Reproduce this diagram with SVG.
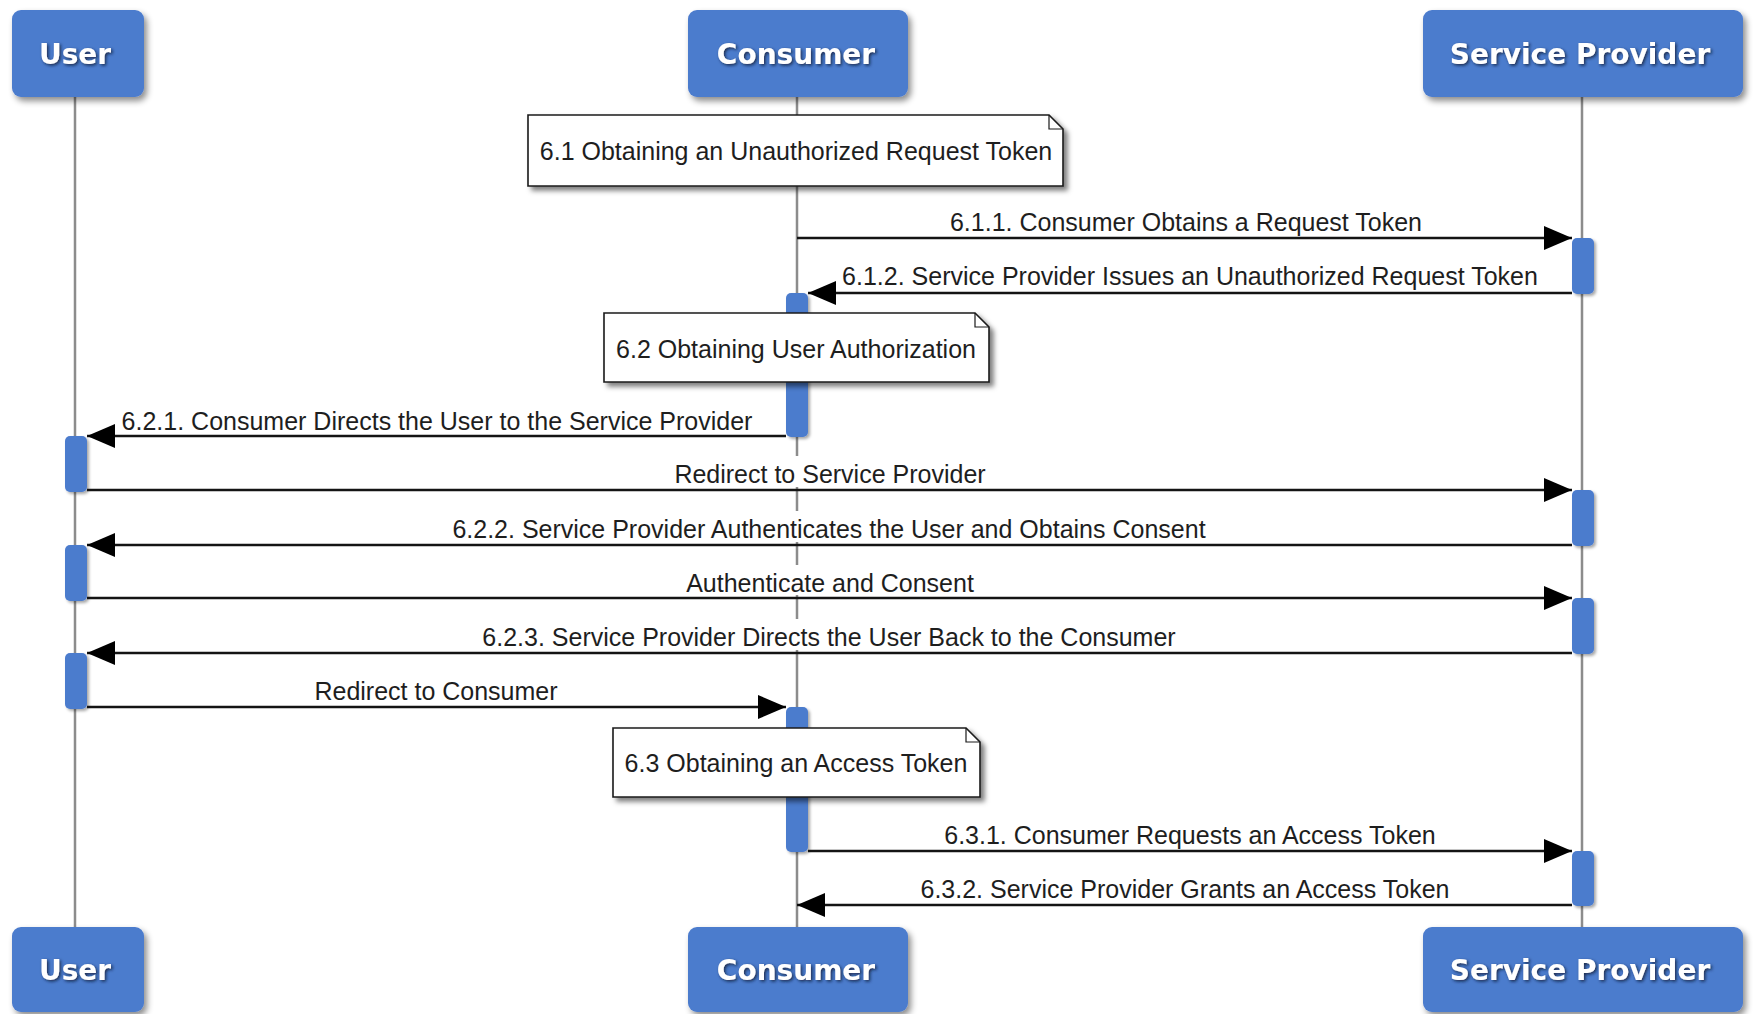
<svg xmlns="http://www.w3.org/2000/svg" width="1754" height="1014" viewBox="0 0 1754 1014">
  <style>
    .lifeline { stroke: #8c8c8c; stroke-width: 2.5; fill: none; }
    .head rect { fill: #4b7bcd; filter: url(#boxShadow); }
    .head text { font-family: "DejaVu Sans", sans-serif; font-weight: bold; font-size: 28px; fill: #ffffff; text-anchor: middle; filter: url(#textShadow); }
    .act { fill: #4b7bcd; filter: url(#actShadow); }
    .note path.body { fill: #ffffff; stroke: #1a1a1a; stroke-width: 1.6; filter: url(#noteShadow); }
    .note path.fold { fill: none; stroke: #1a1a1a; stroke-width: 1.2; }
    .note text, .label { font-family: "Liberation Sans", Arial, sans-serif; font-size: 25px; fill: #1e1e1e; text-anchor: middle; }
    .msg { stroke: #141414; stroke-width: 2.6; fill: none; marker-end: url(#arrow); }
    .bg { fill: #ffffff; }
  </style>
  <defs>
    <filter id="boxShadow" x="-10%" y="-10%" width="125%" height="135%">
      <feDropShadow dx="3" dy="4" stdDeviation="3" flood-color="#000000" flood-opacity="0.45"/>
    </filter>
    <filter id="textShadow" x="-10%" y="-20%" width="125%" height="150%">
      <feDropShadow dx="1.5" dy="1.5" stdDeviation="1.5" flood-color="#0d1a33" flood-opacity="0.8"/>
    </filter>
    <filter id="actShadow" x="-40%" y="-10%" width="200%" height="130%">
      <feDropShadow dx="2" dy="2" stdDeviation="1.5" flood-color="#000000" flood-opacity="0.35"/>
    </filter>
    <filter id="noteShadow" x="-5%" y="-10%" width="115%" height="135%">
      <feDropShadow dx="4" dy="4" stdDeviation="2.5" flood-color="#000000" flood-opacity="0.5"/>
    </filter>
    <marker id="arrow" markerUnits="userSpaceOnUse" markerWidth="28" markerHeight="24" refX="28" refY="12" orient="auto">
      <path d="M0,0 L28,12 L0,24 z" fill="#000000"/>
    </marker>
  </defs>

  <rect width="1754" height="1014" fill="#ffffff"/>

  <!-- lifelines -->
  <g id="lifelines">
    <line class="lifeline" x1="75" y1="97" x2="75" y2="927"/>
    <line class="lifeline" x1="797" y1="97" x2="797" y2="927"/>
    <line class="lifeline" x1="1582" y1="97" x2="1582" y2="927"/>
  </g>

  <!-- participant heads, top and bottom -->
  <g id="user-top" class="head">
    <rect x="12" y="10" width="132" height="87" rx="9"/>
    <text x="75" y="64">User</text>
  </g>
  <g id="consumer-top" class="head">
    <rect x="688" y="10" width="220" height="87" rx="9"/>
    <text x="796" y="64">Consumer</text>
  </g>
  <g id="provider-top" class="head">
    <rect x="1423" y="10" width="320" height="87" rx="9"/>
    <text x="1580" y="64">Service Provider</text>
  </g>
  <g id="user-bottom" class="head">
    <rect x="12" y="927" width="132" height="85" rx="9"/>
    <text x="75" y="980">User</text>
  </g>
  <g id="consumer-bottom" class="head">
    <rect x="688" y="927" width="220" height="85" rx="9"/>
    <text x="796" y="980">Consumer</text>
  </g>
  <g id="provider-bottom" class="head">
    <rect x="1423" y="927" width="320" height="85" rx="9"/>
    <text x="1580" y="980">Service Provider</text>
  </g>

  <!-- activation bars -->
  <g id="activations">
    <rect class="act" x="1572" y="238" width="22" height="56" rx="5"/>
    <rect class="act" x="786" y="293" width="22" height="144" rx="5"/>
    <rect class="act" x="65" y="436" width="22" height="56" rx="5"/>
    <rect class="act" x="1572" y="490" width="22" height="56" rx="5"/>
    <rect class="act" x="65" y="545" width="22" height="56" rx="5"/>
    <rect class="act" x="1572" y="598" width="22" height="56" rx="5"/>
    <rect class="act" x="65" y="653" width="22" height="56" rx="5"/>
    <rect class="act" x="786" y="707" width="22" height="145" rx="5"/>
    <rect class="act" x="1572" y="851" width="22" height="55" rx="5"/>
  </g>

  <!-- section notes -->
  <g id="note-6-1" class="note">
    <path class="body" d="M528,115 H1049 L1063,129 V186 H528 Z"/>
    <path class="fold" d="M1049,115 V129 H1063"/>
    <text x="796" y="160">6.1 Obtaining an Unauthorized Request Token</text>
  </g>
  <g id="note-6-2" class="note">
    <path class="body" d="M604,313 H975 L989,327 V382 H604 Z"/>
    <path class="fold" d="M975,313 V327 H989"/>
    <text x="796" y="358">6.2 Obtaining User Authorization</text>
  </g>
  <g id="note-6-3" class="note">
    <path class="body" d="M613,728 H966 L980,742 V797 H613 Z"/>
    <path class="fold" d="M966,728 V742 H980"/>
    <text x="796" y="772">6.3 Obtaining an Access Token</text>
  </g>

  <!-- messages -->
  <g id="connectors">
    <line class="msg" x1="797" y1="238" x2="1572" y2="238"/>
    <text class="label" x="1186" y="231">6.1.1. Consumer Obtains a Request Token</text>

    <line class="msg" x1="1572" y1="293" x2="808" y2="293"/>
    <text class="label" x="1190" y="285">6.1.2. Service Provider Issues an Unauthorized Request Token</text>

    <line class="msg" x1="786" y1="436" x2="87" y2="436"/>
    <text class="label" x="437" y="430">6.2.1. Consumer Directs the User to the Service Provider</text>

    <rect class="bg" x="672" y="456" width="315" height="31"/>
    <line class="msg" x1="87" y1="490" x2="1572" y2="490"/>
    <text class="label" x="830" y="483">Redirect to Service Provider</text>

    <rect class="bg" x="450" y="511" width="758" height="31"/>
    <line class="msg" x1="1572" y1="545" x2="87" y2="545"/>
    <text class="label" x="829" y="538">6.2.2. Service Provider Authenticates the User and Obtains Consent</text>

    <rect class="bg" x="685" y="565" width="290" height="30"/>
    <line class="msg" x1="87" y1="598" x2="1572" y2="598"/>
    <text class="label" x="830" y="592">Authenticate and Consent</text>

    <rect class="bg" x="478" y="619" width="702" height="31"/>
    <line class="msg" x1="1572" y1="653" x2="87" y2="653"/>
    <text class="label" x="829" y="646">6.2.3. Service Provider Directs the User Back to the Consumer</text>

    <line class="msg" x1="87" y1="707" x2="786" y2="707"/>
    <text class="label" x="436" y="700">Redirect to Consumer</text>

    <line class="msg" x1="808" y1="851" x2="1572" y2="851"/>
    <text class="label" x="1190" y="844">6.3.1. Consumer Requests an Access Token</text>

    <line class="msg" x1="1572" y1="905" x2="797" y2="905"/>
    <text class="label" x="1185" y="898">6.3.2. Service Provider Grants an Access Token</text>
  </g>
</svg>
